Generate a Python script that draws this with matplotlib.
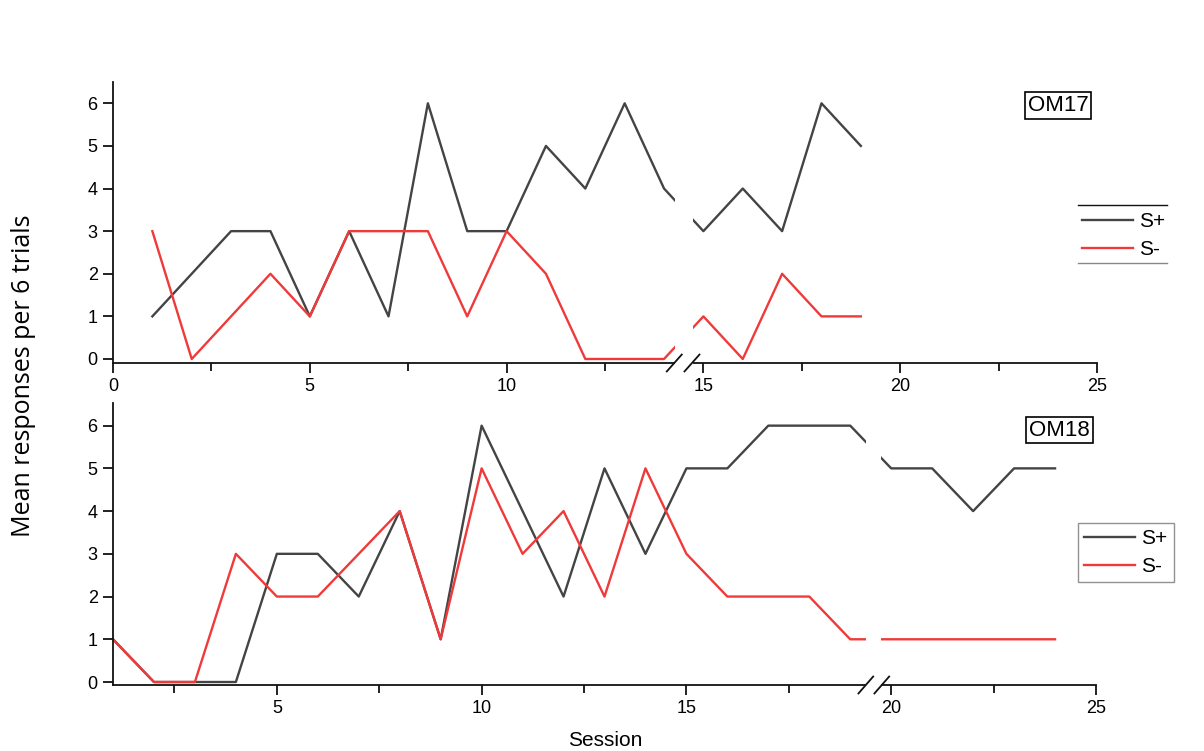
import matplotlib
matplotlib.use("Agg")
import matplotlib.pyplot as plt
from matplotlib.lines import Line2D
from matplotlib.patches import Rectangle

# ---- data ----
sessions_om17 = list(range(1, 20))
splus_om17 = [1, 2, 3, 3, 1, 3, 1, 6, 3, 3, 5, 4, 6, 4, 3, 4, 3, 6, 5]
sminus_om17 = [3, 0, 1, 2, 1, 3, 3, 3, 1, 3, 2, 0, 0, 0, 1, 0, 2, 1, 1]

sessions_om18 = list(range(1, 25))
splus_om18 = [1, 0, 0, 0, 3, 3, 2, 4, 1, 6, 4, 2, 5, 3, 5, 5, 6, 6, 6, 5, 5, 4, 5, 5]
sminus_om18 = [1, 0, 0, 3, 2, 2, 3, 4, 1, 5, 3, 4, 2, 5, 3, 2, 2, 2, 1, 1, 1, 1, 1, 1]

yticks = [0, 1, 2, 3, 4, 5, 6]
xticks_top = [0, 5, 10, 15, 20, 25]
xticks_bot = [5, 10, 15, 20, 25]
series_labels = ["S+", "S-"]
panel_labels = ["OM17", "OM18"]

c_plus = "#444444"
c_minus = "#f03a3a"

W, H = 1204, 751
fig = plt.figure(figsize=(W / 100, H / 100), dpi=100)
fig.patch.set_facecolor("white")

tick_font = "Liberation Sans"

def fx(px):
    return px / W

def fy(py):
    return 1 - py / H

ax1 = fig.add_axes([fx(113), fy(363), (1097 - 113) / W, (363 - 82) / H])
ax2 = fig.add_axes([fx(113), fy(685), (1096 - 113) / W, (685 - 403) / H])

def style(ax, xlim, ylim, xticks):
    ax.set_xlim(*xlim)
    ax.set_ylim(*ylim)
    ax.set_xticks(xticks)
    ax.set_xticks([t + 2.5 for t in range(0, 25, 5) if xlim[0] <= t + 2.5 <= xlim[1]], minor=True)
    ax.set_yticks(yticks)
    for s in ["top", "right"]:
        ax.spines[s].set_visible(False)
    for s in ["left", "bottom"]:
        ax.spines[s].set_linewidth(1.3)
        ax.spines[s].set_color("#111111")
    ax.tick_params(axis="both", which="both", direction="out", length=7, width=1.3,
                   color="#111111", labelsize=13, pad=4)
    ax.tick_params(axis="x", which="minor", length=6)
    for lab in ax.get_xticklabels() + ax.get_yticklabels():
        lab.set_fontfamily(tick_font)
    ax.set_facecolor("none")

style(ax1, (0, 25), (-0.094, 6.5), xticks_top)
style(ax2, (1, 25), (-0.07, 6.53), xticks_bot)

lw = 1.7
l1, = ax1.plot(sessions_om17, splus_om17, color=c_plus, lw=lw, label=series_labels[0])
l2, = ax1.plot(sessions_om17, sminus_om17, color=c_minus, lw=lw, label=series_labels[1])
m1, = ax2.plot(sessions_om18, splus_om18, color=c_plus, lw=lw, label=series_labels[0])
m2, = ax2.plot(sessions_om18, sminus_om18, color=c_minus, lw=lw, label=series_labels[1])

def add_break(ax, x0, x1, m1x, m2x, halfw, halfh):
    tr = ax.get_xaxis_transform()
    rect = Rectangle((x0, -0.06), x1 - x0, 1.1, transform=tr, facecolor="white",
                     edgecolor="none", zorder=3, clip_on=False)
    ax.add_patch(rect)
    for mx in (m1x, m2x):
        ax.plot([mx - halfw, mx + halfw], [-halfh, halfh], transform=tr,
                color="#111111", lw=1.3, zorder=4, clip_on=False)

add_break(ax1, 14.28, 14.74, 14.26, 14.71, 0.19, 0.03)
add_break(ax2, 19.38, 19.76, 19.38, 19.77, 0.18, 0.03)

# panel labels
fig.text(fx(1058), fy(105.5), panel_labels[0], ha="center", va="center",
         fontsize=16, fontfamily="Liberation Sans",
         bbox=dict(boxstyle="square,pad=0.12", facecolor="white", edgecolor="black", lw=1.2))
fig.text(fx(1059.5), fy(430), panel_labels[1], ha="center", va="center",
         fontsize=16, fontfamily="Liberation Sans",
         bbox=dict(boxstyle="square,pad=0.12", facecolor="white", edgecolor="black", lw=1.2))

leg_kw = dict(loc="upper left", handlelength=2.45, handletextpad=0.3,
              labelspacing=0.42, borderpad=0.3, borderaxespad=0,
              prop={"family": "Liberation Sans", "size": 15}, fancybox=False)

lg1 = ax1.legend(handles=[l1, l2], bbox_to_anchor=(fx(1076), fy(206)),
                 bbox_transform=fig.transFigure, frameon=False, **leg_kw)
fig.add_artist(Line2D([fx(1078), fx(1167)], [fy(205), fy(205)], color="#111111", lw=1.0,
                      transform=fig.transFigure))
fig.add_artist(Line2D([fx(1078), fx(1167)], [fy(263), fy(263)], color="#888888", lw=1.0,
                      transform=fig.transFigure))

lg2 = ax2.legend(handles=[m1, m2], bbox_to_anchor=(fx(1078), fy(523)),
                 bbox_transform=fig.transFigure, frameon=True, **leg_kw)
lg2.get_frame().set_edgecolor("#777777")
lg2.get_frame().set_linewidth(1.0)

fig.text(fx(24), 0.5, "Mean responses per 6 trials", rotation=90, ha="center", va="center",
         fontsize=18, fontfamily="Open Sans")
fig.text(fx(605), fy(741), "Session", ha="center", va="center", fontsize=15,
         fontfamily="Liberation Sans")

fig.savefig("out.png", dpi=100)
